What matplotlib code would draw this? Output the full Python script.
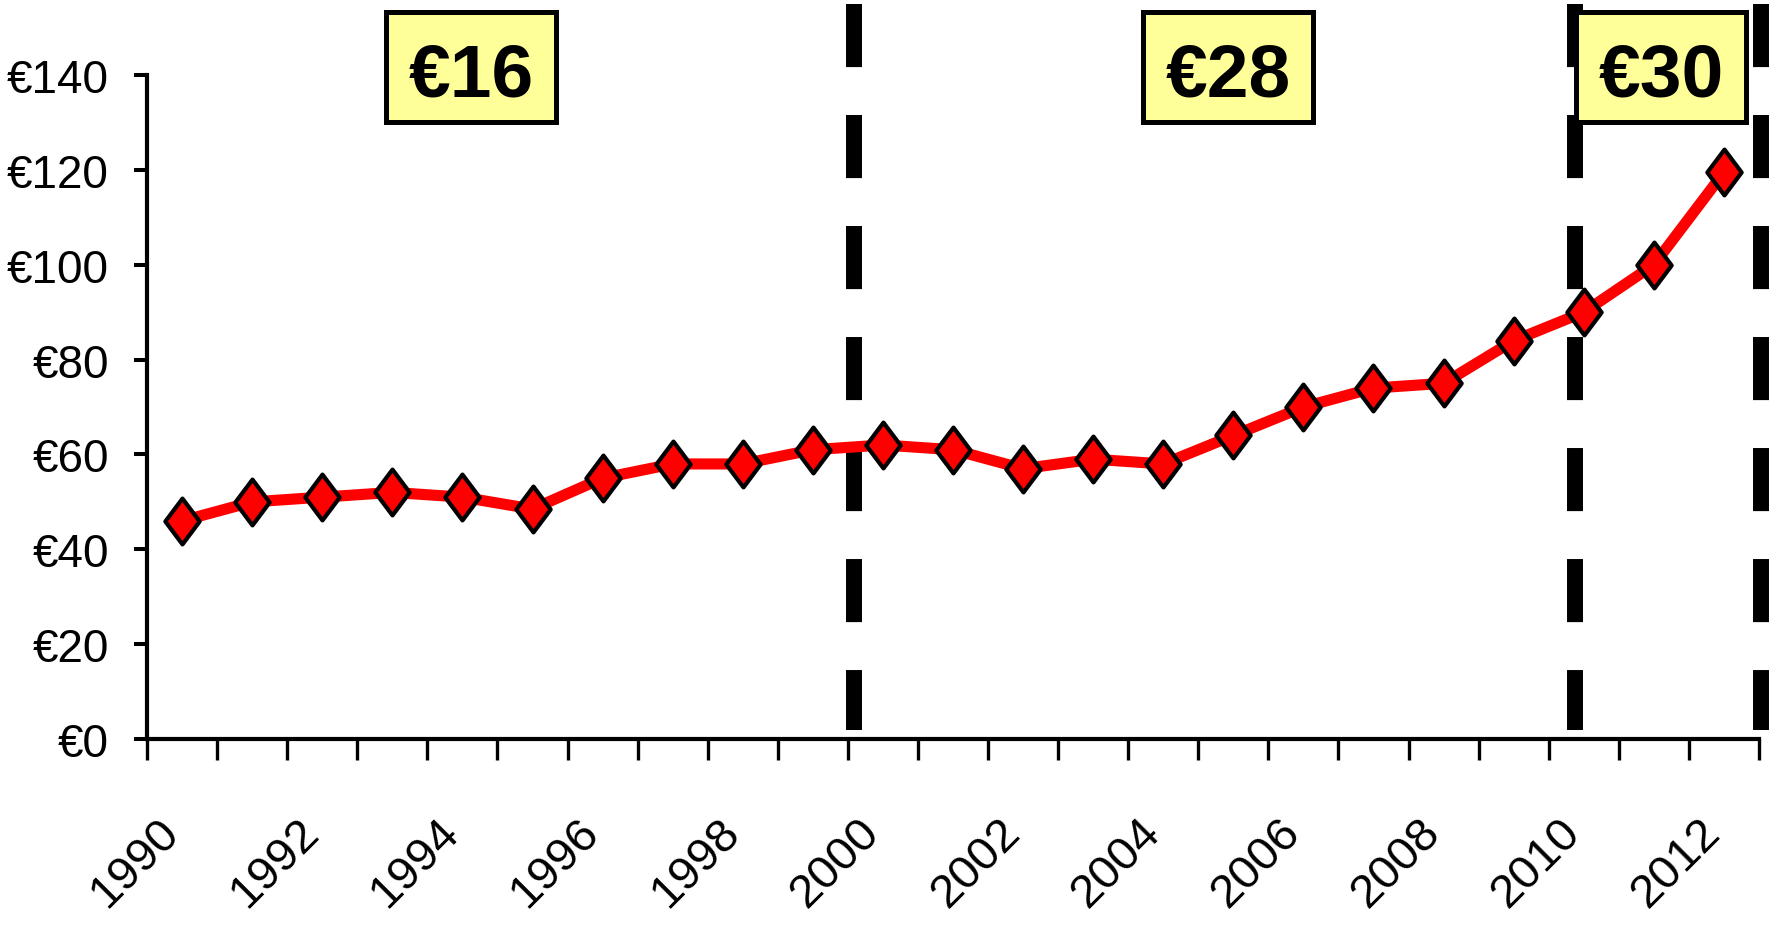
import numpy as np
import matplotlib
matplotlib.use("Agg")
from matplotlib import pyplot as plt
from matplotlib.patches import Rectangle
from matplotlib.path import Path
from matplotlib.transforms import ScaledTranslation

#-----------------------------------------------------------------------------------#
## data
years = np.arange(1990, 2013)
price = [46, 50, 51, 52, 51, 48.5, 55, 58, 58, 61, 62, 61, 57, 59, 58,
         64, 70, 74, 75, 84, 90, 100, 119.5]

era_lines = [1999.59, 2009.87, 2012.53]      # dashed separators
box_labels = ['€16', '€28', '€30']
box_x = [1994.12, 2004.93, 2011.10]          # box centres (year units)
box_y = 141.75

y_ticks = [0, 20, 40, 60, 80, 100, 120, 140]
year_labels = list(range(1990, 2013, 2))

#-----------------------------------------------------------------------------------#
## figure
plt.rcParams['font.family'] = ['Liberation Sans', 'DejaVu Sans']

fig = plt.figure(figsize=(17.76, 9.28), dpi=100)
ax = fig.add_axes([0.0828, 0.2026, 0.9076, 0.7154])

# dashed era separators
for xv in era_lines:
    ax.plot([xv, xv], [155, 2], color='black', lw=11.5, dashes=(3.95, 3.0),
            dash_capstyle='butt', clip_on=False, zorder=1)

# price line with diamond markers
diamond = Path([(0, 1), (0.75, 0), (0, -1), (-0.75, 0), (0, 1)],
               [Path.MOVETO, Path.LINETO, Path.LINETO, Path.LINETO, Path.CLOSEPOLY])
ax.plot(years, price, color='#ff0000', lw=8, marker=diamond, markersize=33,
        markerfacecolor='#ff0000', markeredgecolor='black', markeredgewidth=3,
        clip_on=False, zorder=3)

# yellow label boxes
bw, bh = 2.425, 23.2
for lab, xc in zip(box_labels, box_x):
    ax.add_patch(Rectangle((xc - bw / 2, box_y - bh / 2), bw, bh,
                           facecolor='#ffff99', edgecolor='black', lw=3.6,
                           clip_on=False, zorder=5))
    ax.text(xc, 135.6, lab, ha='center', va='baseline', fontsize=54,
            fontweight='bold', zorder=6, clip_on=False)

#-----------------------------------------------------------------------------------#
## axes
ax.set_xlim(1989.5, 2012.5)
ax.set_ylim(0, 140)

ax.set_yticks(y_ticks)
ax.set_yticklabels(['€{}'.format(v) for v in y_ticks], fontsize=33)
ax.tick_params(axis='y', direction='out', length=9.4, width=2.9, pad=18)

ax.set_xticks(year_labels)
ax.set_xticklabels([str(y) for y in year_labels], fontsize=34,
                   rotation=45, ha='right', va='center', rotation_mode='anchor')
ax.set_xticks(np.arange(1989.5, 2013, 1), minor=True)
ax.tick_params(axis='x', which='major', length=0, pad=62)
ax.tick_params(axis='x', which='minor', direction='out', length=15, width=2.4)

for lbl in ax.get_xticklabels():
    lbl.set_transform(lbl.get_transform()
                      + ScaledTranslation(-0.10, 0, fig.dpi_scale_trans))

for s in ['top', 'right']:
    ax.spines[s].set_visible(False)
for s in ['left', 'bottom']:
    ax.spines[s].set_linewidth(3)

fig.savefig('out.png', dpi=100)
